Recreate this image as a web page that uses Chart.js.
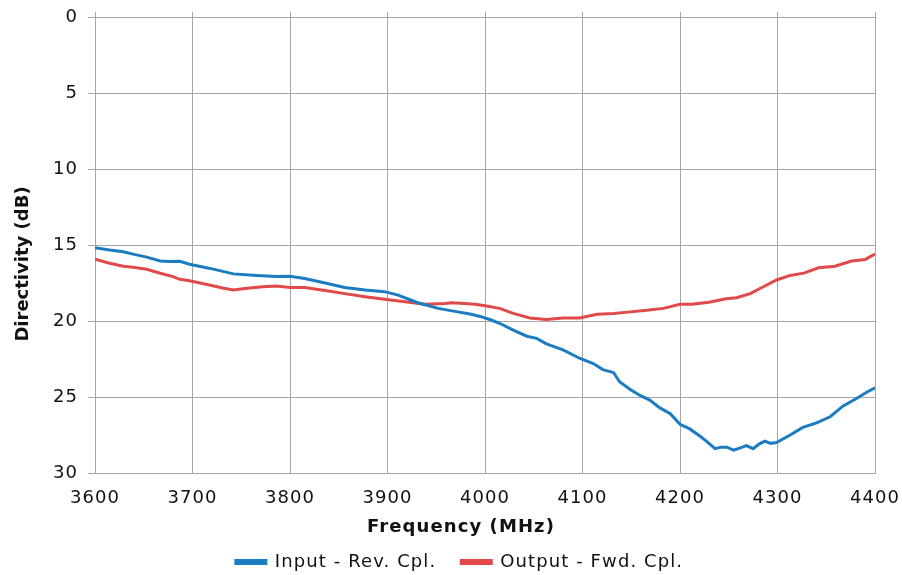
<!DOCTYPE html>
<html>
<head>
<meta charset="utf-8">
<script src="https://cdn.jsdelivr.net/npm/chart.js@4"></script>
<style>
html,body{margin:0;padding:0;background:#fff;}
#wrap{width:902px;height:575px;}
</style>
</head>
<body>
<div id="wrap"><canvas id="c" width="902" height="575"></canvas></div>
<script>
const seriesNames = ["Input - Rev. Cpl.", "Output - Fwd. Cpl."];
const inputFreq = [3600,3615,3629,3639,3653,3667,3677,3687,3697,3718,3742,3766,3786,3800,3815,3836,3856,3877,3897,3911,3931,3952,3972,3986,3995,4005,4015,4029,4043,4053,4063,4080,4097,4111,4121,4132,4138,4149,4159,4169,4179,4190,4200,4210,4221,4227,4236,4242,4248,4255,4262,4268,4275,4281,4287,4293,4299,4313,4326,4340,4354,4367,4381,4391,4400];
const inputDb = [15.18,15.33,15.44,15.6,15.8,16.05,16.08,16.07,16.27,16.54,16.9,17.0,17.08,17.06,17.2,17.5,17.8,17.96,18.07,18.3,18.8,19.17,19.4,19.56,19.7,19.9,20.15,20.6,21.0,21.14,21.5,21.9,22.45,22.8,23.2,23.4,24.0,24.5,24.9,25.2,25.7,26.1,26.8,27.1,27.6,27.9,28.4,28.3,28.3,28.5,28.35,28.2,28.4,28.1,27.9,28.05,28.0,27.5,27.0,26.7,26.3,25.6,25.1,24.7,24.4];
const outputFreq = [3600,3615,3629,3639,3653,3667,3680,3687,3697,3715,3732,3742,3756,3772,3786,3800,3815,3836,3856,3877,3897,3918,3938,3959,3966,3979,3990,4000,4015,4029,4046,4063,4080,4097,4115,4132,4149,4166,4183,4200,4212,4230,4247,4258,4272,4285,4299,4313,4327,4342,4359,4376,4390,4400];
const outputDb = [15.94,16.2,16.4,16.47,16.6,16.86,17.08,17.26,17.35,17.6,17.85,17.96,17.85,17.74,17.7,17.8,17.8,18.0,18.2,18.4,18.57,18.73,18.9,18.85,18.8,18.85,18.9,19.0,19.17,19.5,19.8,19.9,19.8,19.8,19.56,19.5,19.4,19.3,19.17,18.9,18.9,18.76,18.54,18.47,18.2,17.76,17.3,17.0,16.85,16.5,16.4,16.05,15.95,15.6];
const xTicks = [3600,3700,3800,3900,4000,4100,4200,4300,4400];
const yTicks = [0,5,10,15,20,25,30];

const FONT = "'DejaVu Sans', Verdana, sans-serif";
const FS = 18;
const GRID = '#a6a6a6';
const LEG_PAD = 25;
const SPACING = '1.1px';
const toPts = (xs, ys) => xs.map((x, i) => ({x: x, y: ys[i]}));

function patchTitle(scale, dx, dy, spacing) {
  if (!scale || scale._patchedTitle) return;
  const orig = scale.drawTitle;
  scale.drawTitle = function () {
    const ctx = this.ctx;
    const prev = ctx.letterSpacing;
    ctx.save();
    ctx.translate(dx, dy);
    ctx.letterSpacing = spacing;
    orig.apply(this, arguments);
    ctx.restore();
    ctx.letterSpacing = prev;
  };
  scale._patchedTitle = true;
}

const textTweak = {
  id: 'textTweak',
  beforeUpdate(chart) { chart.ctx.letterSpacing = SPACING; },
  beforeDraw(chart) { chart.ctx.letterSpacing = SPACING; },
  afterLayout(chart) {
    const lg = chart.legend;
    if (lg) {
      lg.top = 562 - LEG_PAD - FS / 2;
      lg.left += 22;
      lg.right += 22;
    }
    patchTitle(chart.scales.y, 0, 19, '0px');
    patchTitle(chart.scales.x, -24, 0, SPACING);
  }
};

new Chart(document.getElementById('c'), {
  type: 'line',
  data: {
    datasets: [
      {label: seriesNames[0], data: toPts(inputFreq, inputDb), borderColor: '#1b7cc1', backgroundColor: '#1b7cc1', borderWidth: 3, pointRadius: 0, tension: 0, xAxisID: 'x', yAxisID: 'y'},
      {label: seriesNames[1], data: toPts(outputFreq, outputDb), borderColor: '#e04a4a', backgroundColor: '#e04a4a', borderWidth: 3, pointRadius: 0, tension: 0, xAxisID: 'x', yAxisID: 'y'}
    ]
  },
  plugins: [textTweak],
  options: {
    responsive: false,
    animation: false,
    layout: {padding: {top: 9, right: 27, left: 0, bottom: 0}},
    plugins: {
      legend: {
        position: 'bottom',
        maxHeight: 27,
        labels: {font: {family: FONT, size: FS}, color: '#111', boxWidth: 30, boxHeight: 3, padding: LEG_PAD}
      },
      tooltip: {enabled: false}
    },
    scales: {
      x: {
        type: 'linear', position: 'bottom', min: 3600, max: 4400,
        afterBuildTicks: s => { s.ticks = xTicks.map(v => ({value: v})); },
        afterFit: s => { s.height = 75; s.paddingLeft = 0; s.paddingRight = 0; },
        grid: {color: GRID, lineWidth: 1, drawTicks: false},
        border: {color: GRID, width: 1},
        ticks: {font: {family: FONT, size: FS}, color: '#111', padding: 15, maxRotation: 0, callback: v => String(v)},
        title: {display: true, text: 'Frequency (MHz)', font: {family: FONT, size: FS, weight: 'bold'}, color: '#111', padding: {top: 0, bottom: 10}}
      },
      x2: {
        type: 'linear', position: 'top', min: 3600, max: 4400,
        afterBuildTicks: s => { s.ticks = xTicks.map(v => ({value: v})); },
        afterFit: s => { s.height = 8; s.paddingLeft = 0; s.paddingRight = 0; },
        grid: {color: GRID, lineWidth: 1, drawOnChartArea: false, drawTicks: true, tickLength: 5},
        border: {display: false},
        ticks: {display: false}
      },
      y: {
        type: 'linear', reverse: true, min: 0, max: 30,
        afterBuildTicks: s => { s.ticks = yTicks.map(v => ({value: v})); },
        afterFit: s => { s.width = 95; s.paddingTop = 0; s.paddingBottom = 0; },
        grid: {color: GRID, lineWidth: 1, drawTicks: true, tickLength: 7},
        border: {color: GRID, width: 1},
        ticks: {font: {family: FONT, size: FS}, color: '#111', padding: 10},
        title: {display: true, text: 'Directivity (dB)', font: {family: FONT, size: FS, weight: 'bold'}, color: '#111', padding: {top: 13, bottom: 0}}
      }
    }
  }
});
</script>
</body>
</html>
